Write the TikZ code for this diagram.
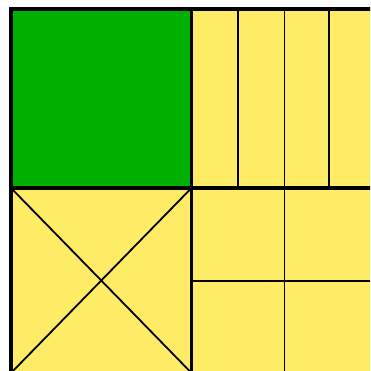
\documentclass[tikz,border=0pt]{standalone}
\definecolor{gridgreen}{RGB}{0,176,0}
\definecolor{gridyellow}{RGB}{255,236,102}
\tikzset{
  thinline/.style={line width=1.8pt,black},
  thickline/.style={line width=3.2pt,black}
}
\begin{document}
\begin{tikzpicture}[x=1pt,y=-1pt]
\useasboundingbox (0,0) rectangle (370,371);
\clip (0,0) rectangle (370,371);
% corners
\coordinate (TL) at (11,9);
\coordinate (TM) at (191.5,9);
\coordinate (TR) at (373,9);
\coordinate (ML) at (11,188);
\coordinate (C) at (191.5,188);
\coordinate (MR) at (373,188);
\coordinate (BL) at (11,373);
\coordinate (BM) at (191.5,373);
\coordinate (BR) at (373,373);
% fills
\fill[gridyellow] (TL) rectangle (BR);
\fill[gridgreen] (TL) rectangle (C);
% top-right columns
\foreach \x in {238,284.5,329}
  \draw[thinline] (\x,9) -- (\x,188);
% bottom-right quarters
\draw[thinline] (284.5,188) -- (284.5,373);
\draw[thinline] (191.5,281) -- (373,281);
% bottom-left diagonals
\draw[thinline] (ML) -- (BM);
\draw[thinline] (C) -- (BL);
% thick lines
\draw[thickline] (TL) rectangle (BR);
\draw[thickline] (TM) -- (BM);
\draw[thickline] (ML) -- (MR);
\end{tikzpicture}
\end{document}
